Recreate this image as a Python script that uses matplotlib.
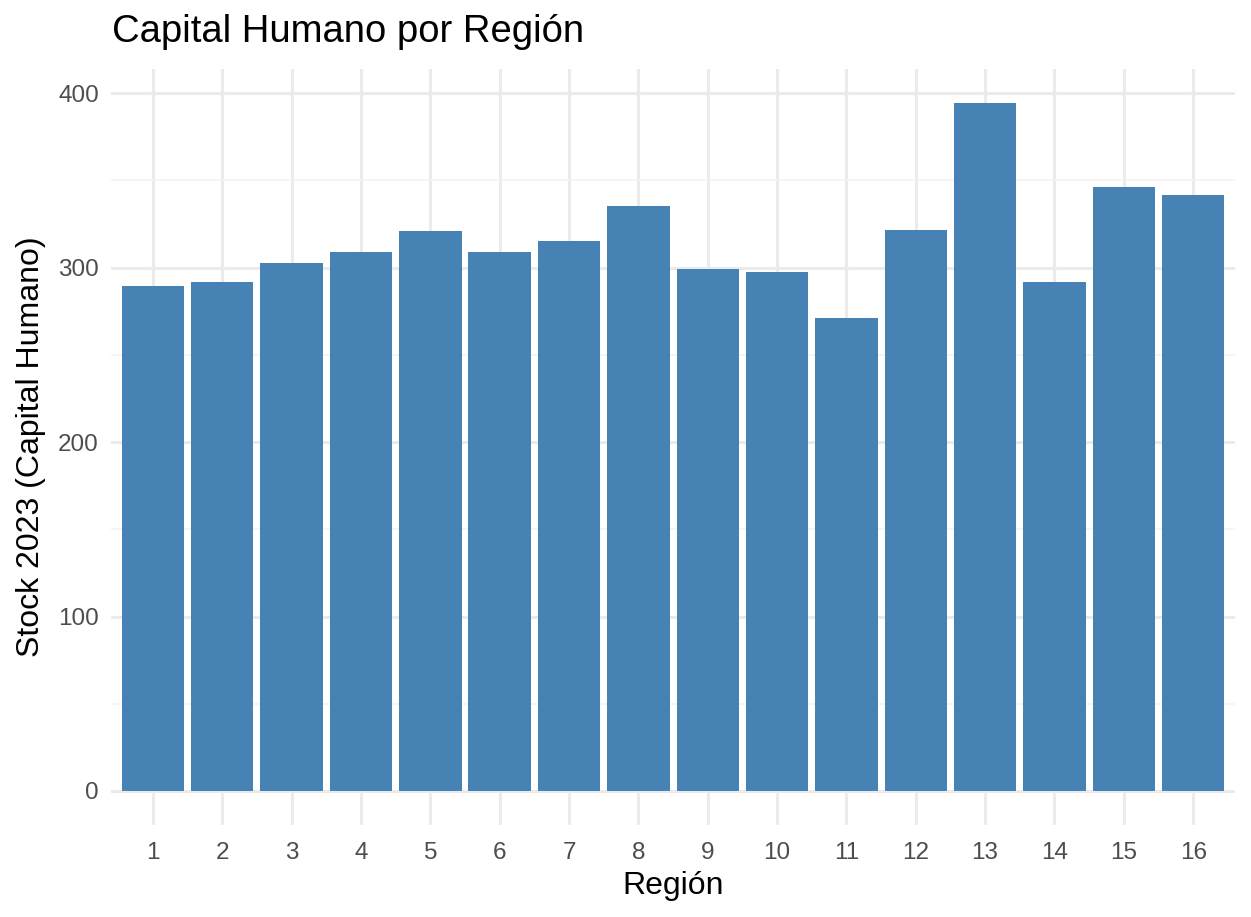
import matplotlib
matplotlib.use("Agg")
import matplotlib.pyplot as plt
import numpy as np

plt.rcParams["font.family"] = ["Liberation Sans", "DejaVu Sans"]

regiones = list(range(1, 17))
stock_2023 = [289.4, 291.7, 302.6, 308.9, 320.9, 308.9, 315.2, 335.2,
              299.1, 297.4, 271.1, 321.5, 394.3, 291.7, 346.1, 341.5]
BAR = "#4682B4"

fig = plt.figure(figsize=(12.51, 9.17), dpi=100)
ax = fig.add_axes([0.089, 0.0999, 0.898, 0.8253])
ax.set_axisbelow(True)
ax.bar(regiones, stock_2023, width=0.9, color=BAR, zorder=2)

ymax = max(stock_2023)
ax.set_xlim(0.4, 16.6)
ax.set_ylim(-0.05 * ymax, ymax * 1.05)
ax.set_xticks(regiones)
ax.set_xticklabels([str(r) for r in regiones])
ax.set_yticks([0, 100, 200, 300, 400])
ax.set_yticks([50, 150, 250, 350], minor=True)
ax.grid(which="major", color="#EBEBEB", linewidth=2.2)
ax.grid(which="minor", axis="y", color="#F2F2F2", linewidth=1.1)
ax.tick_params(which="both", length=0, labelsize=17.5, labelcolor="#4D4D4D", pad=9)
ax.tick_params(axis="x", pad=12)
for s in ax.spines.values():
    s.set_visible(False)

ax.set_xlabel("Región", fontsize=23, labelpad=5)
ax.set_ylabel("Stock 2023 (Capital Humano)", fontsize=23, labelpad=9)
fig.text(112 / 1251, 1 - 32 / 917, "Capital Humano por Región", fontsize=27.5,
         ha="left", va="center")

fig.savefig("out.png", dpi=100)
